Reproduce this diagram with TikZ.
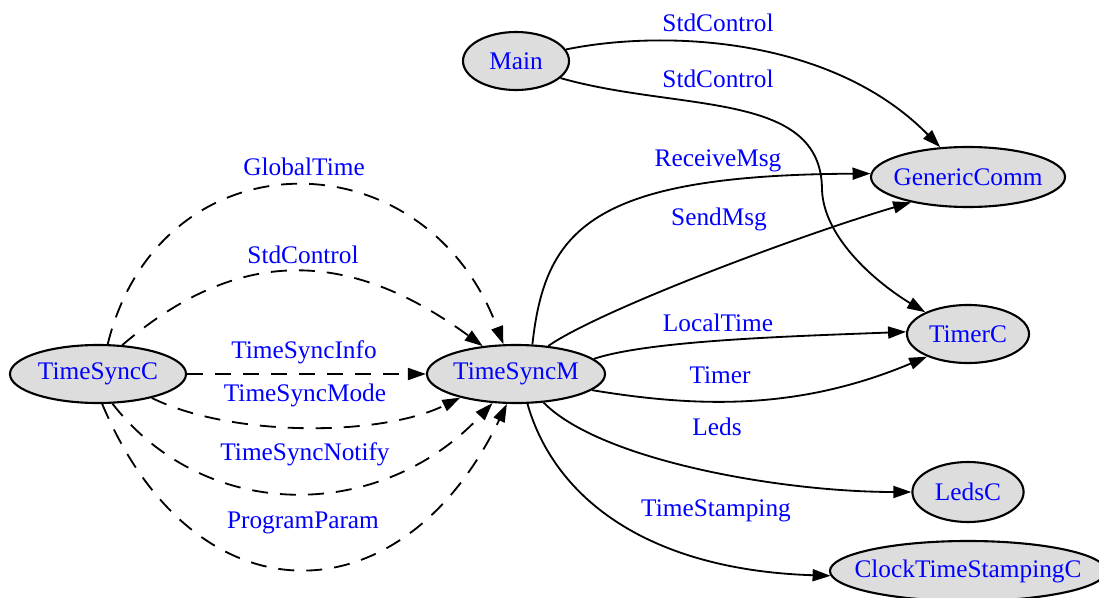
\documentclass[tikz,border=0pt]{standalone}
\usepackage{fontspec}
\setmainfont{Liberation Serif}
\usetikzlibrary{arrows.meta, shapes.geometric}
\definecolor{compgray}  {RGB}{221, 221, 221}
\definecolor{ifaceblue} {RGB}{0,   0,   255}
\tikzset{
  compnode/.style={
    ellipse, draw=black, line width=1.5pt,
    fill=compgray, text=ifaceblue,
    inner sep=0pt, minimum height=1.45cm,
    font=\fontsize{18pt}{21pt}\selectfont
  },
  widecomp/.style={
    compnode, inner xsep=-0.8cm
  },
  wirearrow/.style={
    -{Triangle[length=0.45cm, width=0.3cm]}, line width=1.3pt, color=black
  },
  wiredash/.style={
    wirearrow, dash pattern=on 0.4cm off 0.3cm
  },
  wirelabel/.style={
    text=ifaceblue, anchor=base, inner sep=0pt,
    font=\fontsize{18pt}{21pt}\selectfont
  },
}

\begin{document}
\begin{tikzpicture}[x=0.025cm, y=-0.025cm]
  \useasboundingbox (0,0) rectangle (1099,598);

  % Components
  \node[compnode, minimum width=2.65cm] (Main) at (516,61) {Main};
  \node[compnode, minimum width=4.4cm] (TSC) at (98,374) {TimeSyncC};
  \node[widecomp, minimum width=4.45cm] (TSM) at (516,374) {TimeSyncM};
  \node[widecomp, minimum width=4.85cm, minimum height=1.5cm] (Comm) at (968,177) {GenericComm};
  \node[compnode, minimum width=3.05cm] (Timer) at (968,334) {TimerC};
  \node[compnode, minimum width=2.78cm, minimum height=1.5cm] (Leds) at (968,492) {LedsC};
  \node[widecomp, minimum width=6.9cm, minimum height=1.5cm] (Clock) at (968,571) {ClockTimeStampingC};

  % Wiring TimeSyncC -> TimeSyncM
  \draw[wiredash] (TSC.72) .. controls (160,133) and (425,133) .. (TSM.113);
  \draw[wiredash] (TSC.50) .. controls (237,247) and (347,247) .. (TSM.140);
  \draw[wiredash] (TSC) -- (TSM);
  \draw[wiredash] (TSC.-24) .. controls (231,437) and (380,437) .. (TSM.203);
  \draw[wiredash] (TSC.-64) .. controls (205,523) and (380,523) .. (TSM.231);
  \draw[wiredash] (TSC.-82) .. controls (195,625) and (402,622) .. (TSM.253);

  % Wiring from Main
  \draw[wirearrow] (Main.13) .. controls (660,30) and (830,35) .. (Comm.133);
  \draw[wirearrow] (Main.-21) .. controls (680,112) and (822,90) .. (822,190)
        .. controls (824,240) and (880,285) .. (Timer.153);

  % Wiring from TimeSyncM
  \draw[wirearrow] (TSM.61) .. controls (545,230) and (590,175) .. (Comm.178);
  \draw[wirearrow] (TSM.41) .. controls (600,310) and (800,235) .. (Comm.204);
  \draw[wirearrow] (TSM.11) .. controls (650,340) and (800,336) .. (Timer.178);
  \draw[wirearrow] (TSM.-12) .. controls (700,408) and (800,410) .. (Timer.209);
  \draw[wirearrow] (TSM.-46) .. controls (600,460) and (780,492) .. (Leds.180);
  \draw[wirearrow] (TSM.-69) .. controls (555,500) and (650,570) .. (Clock.182);

  % Interface labels
  \node[wirelabel] (lStdA) at (718,31) {StdControl};
  \node[wirelabel] (lStdB) at (718,87) {StdControl};
  \node[wirelabel] (lRecv) at (718,166) {ReceiveMsg};
  \node[wirelabel] (lSend) at (719,225) {SendMsg};
  \node[wirelabel] (lLocal) at (718,331) {LocalTime};
  \node[wirelabel] (lTimer) at (720,383) {Timer};
  \node[wirelabel] (lLeds) at (717,435) {Leds};
  \node[wirelabel] (lStamp) at (716,516) {TimeStamping};
  \node[wirelabel] (lGlobal) at (304,175) {GlobalTime};
  \node[wirelabel] (lStdC) at (303,263) {StdControl};
  \node[wirelabel] (lInfo) at (304,358) {TimeSyncInfo};
  \node[wirelabel] (lMode) at (305,401) {TimeSyncMode};
  \node[wirelabel] (lNotify) at (305,460) {TimeSyncNotify};
  \node[wirelabel] (lParam) at (303,528) {ProgramParam};
\end{tikzpicture}
\end{document}
